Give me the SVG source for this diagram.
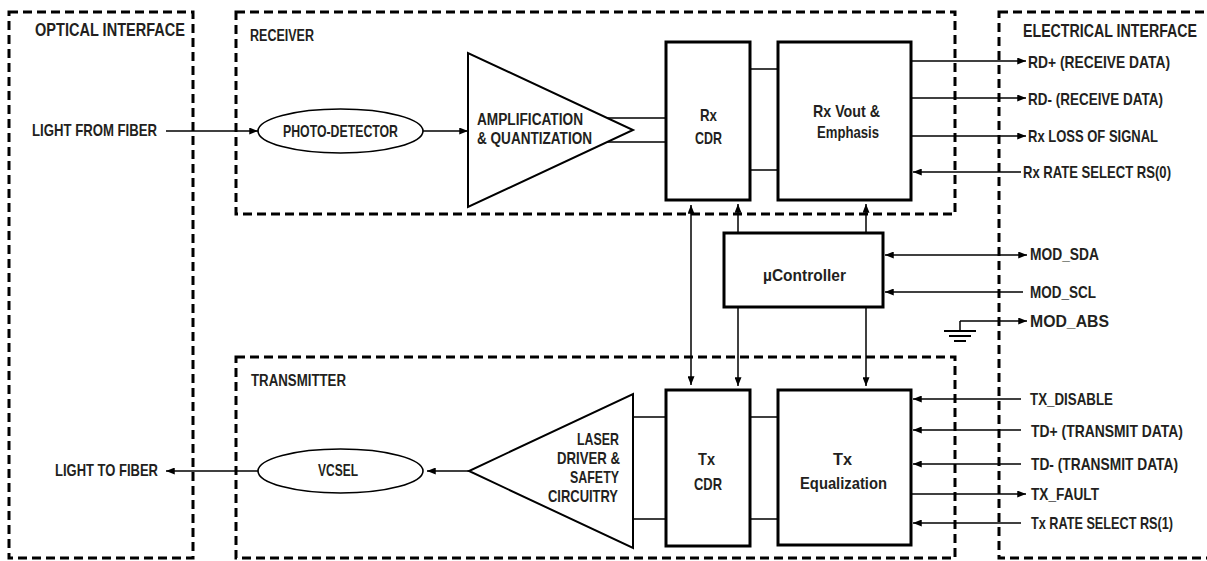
<svg xmlns="http://www.w3.org/2000/svg" width="1207" height="561" viewBox="0 0 1207 561">
<defs>
<marker id="ah" viewBox="0 0 10 8" refX="10" refY="4" markerWidth="10" markerHeight="7" orient="auto-start-reverse" markerUnits="userSpaceOnUse"><path d="M0,0 L10,4 L0,8 z" fill="#000"/></marker>
<style>
text{font-family:"Liberation Sans",Arial,sans-serif;font-weight:bold;fill:#231f20;font-size:17px}
.hdr{font-size:18px}
.hdr2{font-size:14.5px}
.sec{font-size:16px}
.r{font-size:15px}
.mid{text-anchor:middle}
.end{text-anchor:end}
.dash{fill:none;stroke:#000;stroke-width:3;stroke-dasharray:9 5}
.blk{fill:#fff;stroke:#000;stroke-width:3}
.tri{fill:#fff;stroke:#000;stroke-width:2}
.ell{fill:#fff;stroke:#000;stroke-width:1.6}
.c{fill:none;stroke:#000;stroke-width:1.5}
.a{fill:none;stroke:#000;stroke-width:1.5;marker-end:url(#ah)}
.ab{fill:none;stroke:#000;stroke-width:1.5;marker-end:url(#ah);marker-start:url(#ah)}
</style>
</defs>

<g id="optical-interface">
<rect class="dash" x="9" y="12" width="184" height="546"/>
<text class="hdr" x="35" y="36" textLength="150" lengthAdjust="spacingAndGlyphs">OPTICAL INTERFACE</text>
<text x="32" y="136" textLength="125" lengthAdjust="spacingAndGlyphs">LIGHT FROM FIBER</text>
<text x="55" y="476" textLength="103" lengthAdjust="spacingAndGlyphs">LIGHT TO FIBER</text>
</g>

<g id="receiver">
<rect class="dash" x="236" y="12" width="719" height="202"/>
<text class="sec" x="250" y="41" textLength="64" lengthAdjust="spacingAndGlyphs">RECEIVER</text>
</g>

<g id="transmitter">
<rect class="dash" x="236" y="357" width="719" height="201"/>
<text class="sec" x="251" y="386" textLength="95" lengthAdjust="spacingAndGlyphs">TRANSMITTER</text>
</g>

<g id="electrical-interface">
<rect class="dash" x="999" y="12" width="220" height="546"/>
<text class="hdr2 end" transform="translate(1197,37) scale(1,1.3)" x="0" y="0" textLength="174" lengthAdjust="spacingAndGlyphs">ELECTRICAL INTERFACE</text>
<text class="r end" transform="translate(1170,68) scale(1,1.15)" x="0" y="0" textLength="142" lengthAdjust="spacingAndGlyphs">RD+ (RECEIVE DATA)</text>
<text class="r end" transform="translate(1163,105) scale(1,1.15)" x="0" y="0" textLength="135" lengthAdjust="spacingAndGlyphs">RD- (RECEIVE DATA)</text>
<text class="r end" transform="translate(1158,142) scale(1,1.15)" x="0" y="0" textLength="130" lengthAdjust="spacingAndGlyphs">Rx LOSS OF SIGNAL</text>
<text class="r end" transform="translate(1171,178) scale(1,1.15)" x="0" y="0" textLength="148" lengthAdjust="spacingAndGlyphs">Rx RATE SELECT RS(0)</text>
<text class="r end" transform="translate(1099,260) scale(1,1.15)" x="0" y="0" textLength="69" lengthAdjust="spacingAndGlyphs">MOD_SDA</text>
<text class="r end" transform="translate(1096,298) scale(1,1.15)" x="0" y="0" textLength="66" lengthAdjust="spacingAndGlyphs">MOD_SCL</text>
<text class="r end" transform="translate(1109,327) scale(1,1.15)" x="0" y="0" textLength="79" lengthAdjust="spacingAndGlyphs">MOD_ABS</text>
<text class="r end" transform="translate(1113,405) scale(1,1.15)" x="0" y="0" textLength="83" lengthAdjust="spacingAndGlyphs">TX_DISABLE</text>
<text class="r end" transform="translate(1183,437) scale(1,1.15)" x="0" y="0" textLength="152" lengthAdjust="spacingAndGlyphs">TD+ (TRANSMIT DATA)</text>
<text class="r end" transform="translate(1178,470) scale(1,1.15)" x="0" y="0" textLength="147" lengthAdjust="spacingAndGlyphs">TD- (TRANSMIT DATA)</text>
<text class="r end" transform="translate(1099,500) scale(1,1.15)" x="0" y="0" textLength="68" lengthAdjust="spacingAndGlyphs">TX_FAULT</text>
<text class="r end" transform="translate(1173,529) scale(1,1.15)" x="0" y="0" textLength="142" lengthAdjust="spacingAndGlyphs">Tx RATE SELECT RS(1)</text>
</g>

<g id="photo-detector">
<ellipse class="ell" cx="340.5" cy="131" rx="82.5" ry="22"/>
<text class="mid" x="340.5" y="137" textLength="115" lengthAdjust="spacingAndGlyphs">PHOTO-DETECTOR</text>
</g>

<g id="amplifier">
<polygon class="tri" points="468,53 468,207 633,130"/>
<text class="sec" x="477" y="125" textLength="106" lengthAdjust="spacingAndGlyphs">AMPLIFICATION</text>
<text class="sec" x="477" y="144" textLength="115" lengthAdjust="spacingAndGlyphs">&amp; QUANTIZATION</text>
</g>

<g id="rx-cdr">
<rect class="blk" x="666" y="42" width="84" height="158"/>
<text class="mid" x="708.5" y="121" textLength="17" lengthAdjust="spacingAndGlyphs">Rx</text>
<text class="mid" x="708.5" y="144" textLength="27" lengthAdjust="spacingAndGlyphs">CDR</text>
</g>

<g id="rx-vout">
<rect class="blk" x="778" y="42" width="133" height="158"/>
<text class="mid" x="846.5" y="117" textLength="67" lengthAdjust="spacingAndGlyphs">Rx Vout &amp;</text>
<text class="mid" x="848" y="138" textLength="62" lengthAdjust="spacingAndGlyphs">Emphasis</text>
</g>

<g id="ucontroller">
<rect class="blk" x="724" y="233" width="159" height="74"/>
<text class="mid" x="804.5" y="281" textLength="83" lengthAdjust="spacingAndGlyphs">µController</text>
</g>

<g id="ground">
<path class="c" d="M960,321 V331"/>
<path d="M944,331 H976 M949,336 H971 M954,341 H966" stroke="#000" stroke-width="2" fill="none"/>
</g>

<g id="vcsel">
<ellipse class="ell" cx="340.5" cy="471" rx="82.5" ry="22"/>
<text class="mid" x="338" y="476" textLength="40" lengthAdjust="spacingAndGlyphs">VCSEL</text>
</g>

<g id="laser-driver">
<polygon class="tri" points="633,394 633,548 469,471"/>
<text class="end" x="619" y="445" textLength="42" lengthAdjust="spacingAndGlyphs">LASER</text>
<text class="end" x="620" y="464" textLength="63" lengthAdjust="spacingAndGlyphs">DRIVER &amp;</text>
<text class="end" x="619" y="483" textLength="49" lengthAdjust="spacingAndGlyphs">SAFETY</text>
<text class="end" x="618" y="502" textLength="70" lengthAdjust="spacingAndGlyphs">CIRCUITRY</text>
</g>

<g id="tx-cdr">
<rect class="blk" x="666" y="390" width="84" height="156"/>
<text class="mid" x="706.5" y="465" textLength="17" lengthAdjust="spacingAndGlyphs">Tx</text>
<text class="mid" x="708" y="490" textLength="28" lengthAdjust="spacingAndGlyphs">CDR</text>
</g>

<g id="tx-eq">
<rect class="blk" x="778" y="390" width="133" height="155"/>
<text class="mid" x="842.5" y="465" textLength="19" lengthAdjust="spacingAndGlyphs">Tx</text>
<text class="mid" x="843.5" y="489" textLength="87" lengthAdjust="spacingAndGlyphs">Equalization</text>
</g>

<g id="connectors">
<path class="a" d="M166,131 H258"/>
<path class="a" d="M423,131 H468"/>
<path class="c" d="M607,118 H666 M607,142 H666"/>
<path class="c" d="M750,69 H778 M750,170 H778"/>
<path class="a" d="M911,61 H1026"/>
<path class="a" d="M911,98 H1026"/>
<path class="a" d="M911,136 H1026"/>
<path class="a" d="M1021,172 H913"/>
<path class="ab" d="M691,205 V385"/>
<path class="a" d="M738,233 V204"/>
<path class="a" d="M866,233 V204"/>
<path class="a" d="M738,307 V386"/>
<path class="a" d="M866,307 V386"/>
<path class="ab" d="M885,255 H1027"/>
<path class="a" d="M1023,292 H885"/>
<path class="a" d="M960,321 H1027"/>
<path class="a" d="M258,471 H166"/>
<path class="a" d="M469,471 H427"/>
<path class="c" d="M633,417 H666 M633,519 H666"/>
<path class="c" d="M750,417 H778 M750,519 H778"/>
<path class="a" d="M1021,399 H913"/>
<path class="a" d="M1021,430 H913"/>
<path class="a" d="M1021,464 H913"/>
<path class="a" d="M911,494 H1026"/>
<path class="a" d="M1021,523 H913"/>
</g>
</svg>
